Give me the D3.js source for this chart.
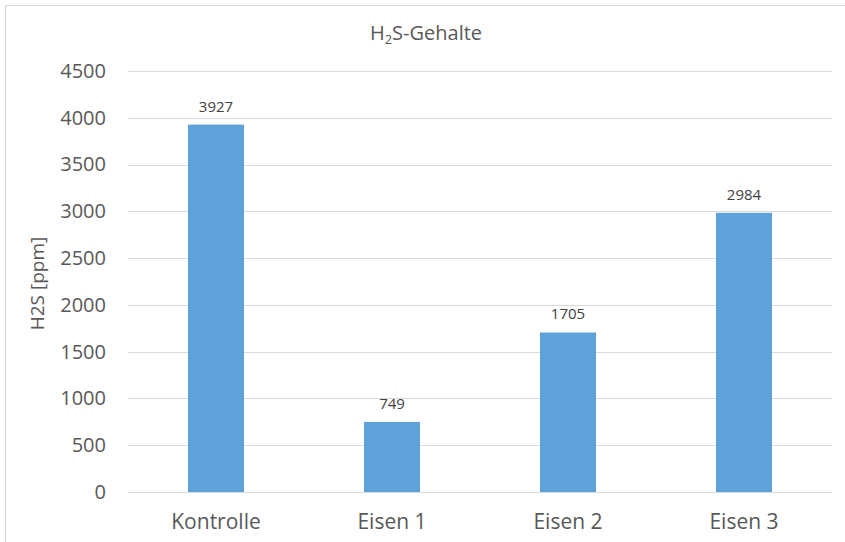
<!DOCTYPE html>
<html>
<head>
<meta charset="utf-8">
<script src="https://cdn.jsdelivr.net/npm/d3@7"></script>
<style>
  html, body { margin: 0; padding: 0; background: #fff; }
  svg { display: block; font-family: "Open Sans", Lato, sans-serif; }
</style>
</head>
<body>
<svg id="chart" width="845" height="542"></svg>
<script>
// H2S content per treatment
const categories = ["Kontrolle", "Eisen 1", "Eisen 2", "Eisen 3"];
const values = [3927, 749, 1705, 2984];
const yTicks = [0, 500, 1000, 1500, 2000, 2500, 3000, 3500, 4000, 4500];

const W = 845, H = 542;
const plot = { left: 128, right: 832, top: 71, bottom: 492 };
const textColor = "#595959";
const gridColor = "#d9d9d9";
const barColor = "#5fa2d9";

const svg = d3.select("#chart");

// outer frame (left and top edges visible)
svg.append("path")
  .attr("d", `M5.5,${H} V5.5 H${W}`)
  .attr("fill", "none")
  .attr("stroke", gridColor)
  .attr("stroke-width", 1.2);

const x = d3.scaleBand()
  .domain(categories)
  .range([plot.left, plot.right])
  .paddingInner(0.682)
  .paddingOuter(0.341);

const y = d3.scaleLinear()
  .domain([0, 4500])
  .range([plot.bottom, plot.top]);

// horizontal gridlines
svg.append("g")
  .selectAll("line")
  .data(yTicks)
  .join("line")
  .attr("x1", plot.left)
  .attr("x2", plot.right)
  .attr("y1", d => Math.round(y(d)) + 0.5)
  .attr("y2", d => Math.round(y(d)) + 0.5)
  .attr("stroke", gridColor)
  .attr("stroke-width", 1);

// y axis labels
const yAxis = d3.axisLeft(y).tickValues(yTicks).tickFormat(d3.format("d")).tickSize(0).tickPadding(0);
const gy = svg.append("g")
  .attr("transform", `translate(${plot.left - 22},0)`)
  .call(yAxis);
gy.select(".domain").remove();
gy.selectAll("text")
  .attr("fill", textColor)
  .attr("font-size", 20)
  .attr("font-family", "'Open Sans', Lato, sans-serif");

// bars
svg.append("g")
  .selectAll("rect")
  .data(values)
  .join("rect")
  .attr("x", (d, i) => x(categories[i]))
  .attr("width", x.bandwidth())
  .attr("y", d => y(d))
  .attr("height", d => y(0) - y(d))
  .attr("fill", barColor);

// value labels
svg.append("g")
  .selectAll("text")
  .data(values)
  .join("text")
  .attr("x", (d, i) => x(categories[i]) + x.bandwidth() / 2)
  .attr("y", d => y(d) - 13)
  .attr("text-anchor", "middle")
  .attr("fill", "#404040")
  .attr("font-size", 15)
  .text(d => d);

// x axis category labels
const xAxis = d3.axisBottom(x).tickSize(0).tickPadding(0);
const gx = svg.append("g")
  .attr("transform", `translate(0,${plot.bottom + 37})`)
  .call(xAxis);
gx.select(".domain").remove();
gx.selectAll("text")
  .attr("fill", textColor)
  .attr("font-size", 21)
  .attr("dy", 0)
  .attr("font-family", "'Open Sans', Lato, sans-serif");

// y axis title
svg.append("text")
  .attr("transform", `translate(44,${(plot.top + plot.bottom) / 2 + 2}) rotate(-90)`)
  .attr("text-anchor", "middle")
  .attr("fill", textColor)
  .attr("font-size", 19)
  .text("H2S [ppm]");

// chart title with subscript
const title = svg.append("text")
  .attr("x", 426)
  .attr("y", 40)
  .attr("text-anchor", "middle")
  .attr("fill", textColor)
  .attr("font-size", 20);
title.append("tspan").text("H");
title.append("tspan").attr("font-size", 13).attr("dy", 4).text("2");
title.append("tspan").attr("dy", -4).text("S-Gehalte");
</script>
</body>
</html>
